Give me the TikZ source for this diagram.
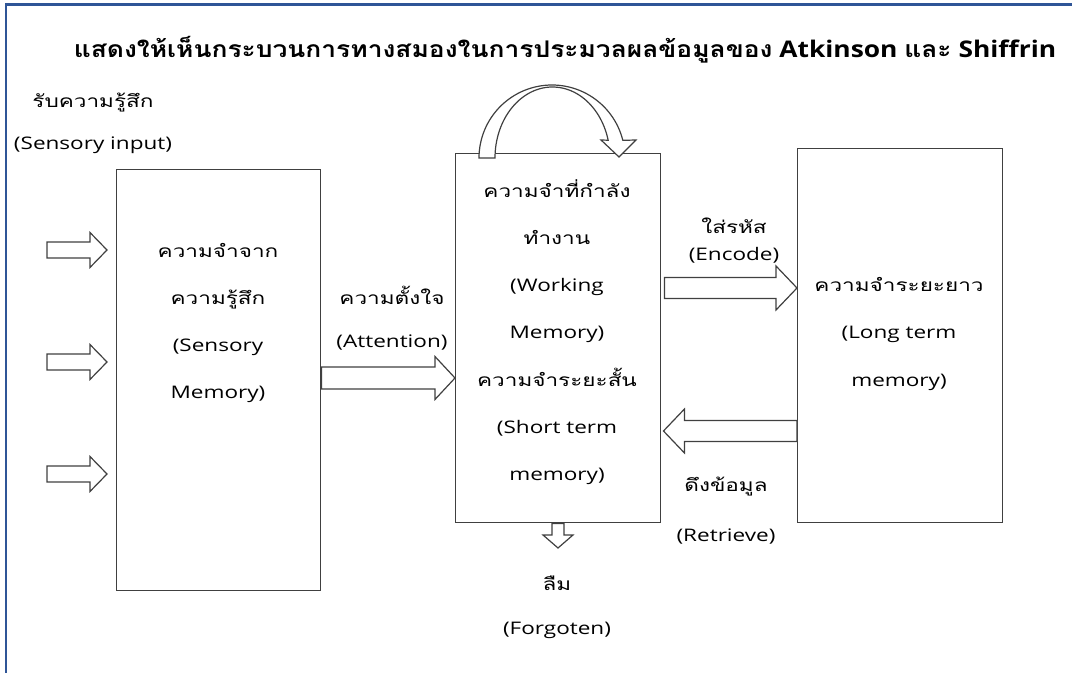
\documentclass[tikz,border=0pt]{standalone}
\usepackage{fontspec}
\setmainfont[FakeStretch=1.3]{Open Sans}
\newfontfamily\thai[Script=Thai,FakeStretch=1.3]{Loma}
\newfontfamily\titlelat[FakeStretch=1.15]{Open Sans}
\newfontfamily\titlethai[Script=Thai,FakeStretch=1.15]{Loma}
\usetikzlibrary{calc}
\definecolor{frameblue}{RGB}{47,85,151}
\definecolor{linegray}{RGB}{64,64,64}
\tikzset{
  box/.style={draw=linegray,line width=1.1pt,fill=white,anchor=north west,inner sep=0pt},
  blockarrow/.style={draw=linegray,line width=0.9pt,fill=white,line join=miter},
  txt/.style={align=center,inner sep=0pt,font=\fontsize{13}{35.4}\selectfont},
  titletxt/.style={inner sep=0pt,font=\fontsize{17.2}{20}\selectfont\titlelat\bfseries},
}
\newcommand\barrow[5]{%
  \coordinate (bh) at ($(#2)!#5!(#1)$);
  \draw[blockarrow] ($(#1)!#3!90:(#2)$) -- ($(bh)!#3!-90:(#1)$) -- ($(bh)!#4!-90:(#1)$) -- (#2)
    -- ($(bh)!#4!90:(#1)$) -- ($(bh)!#3!90:(#1)$) -- ($(#1)!#3!-90:(#2)$) -- cycle;}
\begin{document}
\begin{tikzpicture}[x=0.75pt,y=-0.75pt]
\useasboundingbox (0,0) rectangle (1072,673);
\draw[frameblue,line width=1.8pt] (6,673) -- (6,4.5) -- (1072,4.5);

\node[titletxt] (title) at (565,50) {{\titlethai\bfseries แสดงให้เห็นกระบวนการทางสมองในการประมวลผลข้อมูลของ} Atkinson {\titlethai\bfseries และ} Shiffrin};

\node[txt] (inlbl) at (93,103) {\thai รับความรู้สึก};
\node[txt] (inlbl2) at (93,145) {(Sensory input)};

% boxes
\node[box,minimum width=153pt,minimum height=315.75pt] (b1) at (116,169) {};
\node[box,minimum width=153.75pt,minimum height=276.75pt] (b2) at (455,153) {};
\node[box,minimum width=153.75pt,minimum height=280.5pt] (b3) at (797,148) {};

% box texts
\node[txt] (t1) at (218,323) {{\thai ความจำจาก}\\{\thai ความรู้สึก}\\(Sensory\\Memory)};
\node[txt] (t2) at (557,332) {{\thai ความจำที่กำลัง}\\{\thai ทำงาน}\\(Working\\Memory)\\{\thai ความจำระยะสั้น}\\(Short term\\memory)};
\node[txt] (t3) at (899,334) {{\thai ความจำระยะยาว}\\(Long term\\memory)};

% input arrows
\coordinate (i1s) at (47,250); \coordinate (i1e) at (107,250);
\coordinate (i2s) at (47,362); \coordinate (i2e) at (107,362);
\coordinate (i3s) at (47,474); \coordinate (i3e) at (107,474);
\barrow{i1s}{i1e}{6pt}{13.1pt}{12.75pt}
\barrow{i2s}{i2e}{6pt}{13.1pt}{12.75pt}
\barrow{i3s}{i3e}{6pt}{13.1pt}{12.75pt}

% attention
\coordinate (as) at (b1.east |- 0,378);
\coordinate (ae) at (b2.west |- 0,378);
\barrow{as}{ae}{8.25pt}{16.1pt}{15pt}
\node[txt] (al1) at (392,295) {\thai ความตั้งใจ};
\node[txt] (al2) at (392,343) {(Attention)};

% encode
\coordinate (es) at ($(b2.east |- 0,288)+(3,0)$);
\coordinate (ee) at (b3.west |- 0,288);
\barrow{es}{ee}{7.9pt}{16.5pt}{15.75pt}
\node[txt] (el1) at (734,226) {\thai ใส่รหัส};
\node[txt] (el2) at (734,255) {(Encode)};

% retrieve
\coordinate (rs) at (b3.west |- 0,431);
\coordinate (re) at ($(b2.east |- 0,431)+(2,0)$);
\barrow{rs}{re}{7.9pt}{16.5pt}{15.75pt}
\node[txt] (rl1) at (726,487) {\thai ดึงข้อมูล};
\node[txt] (rl2) at (726,537) {(Retrieve)};

% forget
\coordinate (fs) at (b2.south -| 558,0);
\coordinate (fe) at (558,548);
\barrow{fs}{fe}{4.5pt}{11.25pt}{9.75pt}
\node[txt] (fl1) at (557,583) {\thai ลืม};
\node[txt] (fl2) at (557,630) {(Forgoten)};

% loop arrow on top of working memory
\draw[blockarrow] plot[domain=180:14,samples=60] ({552+73*cos(\x)},{158-73*sin(\x)})
  -- (636,140) -- (619,157) -- (601,140)
  -- plot[domain=14.5:180,samples=60] ({552.5+57.5*cos(\x)},{158-71*sin(\x)}) -- cycle;
\end{tikzpicture}
\end{document}
